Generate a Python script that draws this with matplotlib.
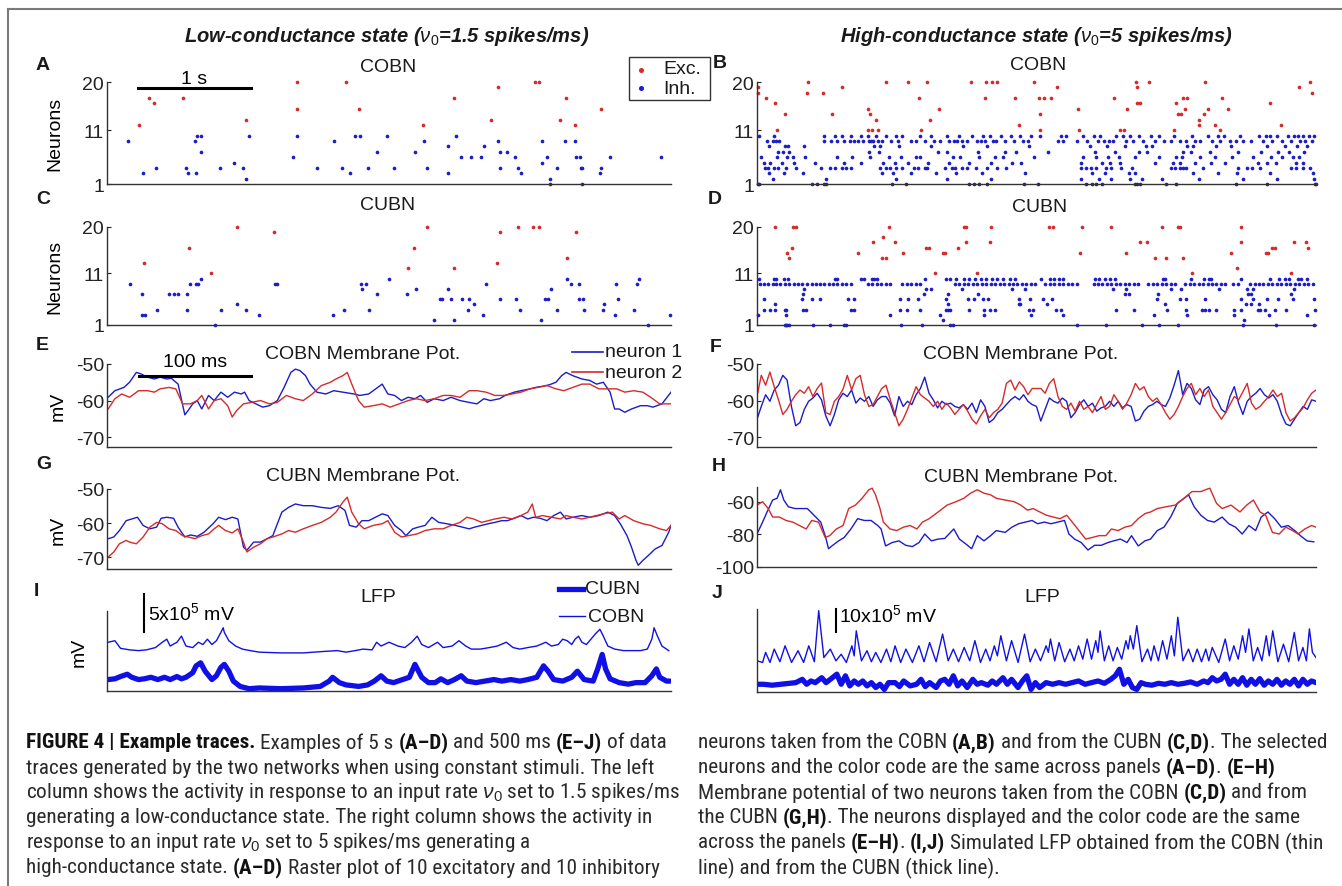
import numpy as np
import matplotlib
matplotlib.use('Agg')
import matplotlib.pyplot as plt
from matplotlib import font_manager
from matplotlib.font_manager import FontProperties
from matplotlib.lines import Line2D
from matplotlib.patches import Rectangle

# ---------------- data ----------------
# raster panels: spike times (ms) for each neuron id (11-20 excitatory, 1-10 inhibitory)
A_EXC = {12: [280, 2800, 4150], 17: [370, 670, 3080, 4070], 16: [420],
         13: [1230, 3400, 4020], 20: [1680, 2120, 3790, 3830],
         15: [1680, 2230, 4380], 19: [3470]}
A_INH = {10: [800, 830, 1260, 1680, 2200, 2240, 2480, 3090],
         9: [190, 780, 2010, 2810, 3470, 3860, 4060, 4150],
         8: [3020, 3340],
         7: [830, 2390, 2730, 3480, 3550],
         6: [1650, 3140, 3230, 3320, 3620, 3900, 4160, 4190, 4460, 4910],
         5: [1130, 3860],
         4: [430, 700, 1000, 1210, 1860, 2080, 2310, 2540, 2840, 3480, 3640, 3990, 4200, 4210, 4380],
         3: [320, 720, 790, 2150, 3020, 3670, 4370],
         2: [1230, 3930],
         1: [3930, 4210]}

C_EXC = {13: [330, 3460], 16: [730, 2720], 11: [920],
         20: [1150, 2840, 3640, 3780, 3830], 19: [1480, 3480, 4160],
         12: [2670, 3080], 14: [4080]}
C_INH = {9: [200, 740, 790, 810, 1490, 1510, 2250, 2300, 3360, 4110, 4180, 4510, 4700],
         7: [310, 550, 590, 630, 710, 2390, 2660],
         3: [310, 340, 1350, 2000, 3330, 4500, 4990],
         4: [440, 710, 1010, 1230, 2100, 2320, 3200, 3660, 3990, 4230, 4400, 4670],
         10: [830, 2500, 4080, 4720],
         1: [960, 4800],
         5: [1150, 3250, 4410],
         8: [2260, 2740, 3020, 3940],
         2: [2900, 3080, 3850],
         6: [2950, 2970, 3050, 3150, 3210, 3480, 3630, 3880, 3910, 4180, 4220, 4530]}

B_EXC = {19: [10, 760, 2680, 3400, 4850],
         18: [10, 450, 590, 4960],
         17: [80, 1450, 2040, 2310, 2520, 2570, 2630, 3190, 3810, 3850, 4160],
         16: [160, 3400, 3430, 3750, 4590],
         14: [250, 670, 1010, 2530, 3770, 3790, 4000],
         11: [180, 990, 1030, 1080, 1470, 2530, 2880, 3250, 3280, 3730, 4140],
         20: [460, 1150, 1350, 1520, 1910, 2050, 2100, 2150, 2480, 3390, 3510, 4010, 4950],
         15: [990, 1630, 2870, 3310, 3830, 4030, 4210],
         13: [1060, 1550, 3950],
         12: [2340, 3950, 4100, 4690]}
B_INH = {10: [20, 150, 600, 700, 760, 840, 930, 990, 1060, 1150, 1240, 1300, 1460, 1560, 1700, 1810,
              1920, 2020, 2080, 2180, 2270, 2350, 2450, 2530, 2720, 2760, 2920, 3010, 3070, 3210, 3270,
              3340, 3420, 3520, 3600, 3730, 3890, 4030, 4120, 4180, 4320, 4490, 4550, 4590, 4650, 4750,
              4800, 4840, 4880, 4940, 4980],
         9: [90, 140, 170, 200, 600, 660, 720, 780, 830, 870, 900, 950, 1000, 1020, 1040, 1080, 1120,
             1200, 1260, 1380, 1420, 1500, 1580, 1640, 1720, 1760, 1790, 1830, 1880, 1970, 2000, 2040,
             2110, 2140, 2220, 2300, 2380, 2420, 2690, 2740, 2860, 2950, 3050, 3100, 3150, 3180, 3300,
             3360, 3450, 3560, 3640, 3700, 3780, 3840, 3920, 3960, 4070, 4140, 4230, 4280, 4350, 4420,
             4530, 4610, 4700, 4780, 4860, 4900, 4960],
         8: [110, 250, 280, 420, 1050, 1100, 1270, 1560, 1840, 2060, 2430, 2980, 3130, 3290, 3480, 3530,
             3850, 3900, 4110, 4240, 4560, 4720, 4830, 4920],
         7: [190, 230, 290, 1000, 1090, 1620, 1700, 1980, 2220, 2320, 2600, 3020, 3200, 3420, 3490, 3810,
             3880, 4050, 4300, 4510, 4660, 4760, 4890],
         6: [40, 180, 270, 320, 430, 720, 850, 1010, 1180, 1290, 1420, 1460, 1750, 1820, 1990, 2130, 2200,
             2480, 2920, 3030, 3140, 3240, 3380, 3600, 3750, 3800, 3960, 4100, 4250, 4440, 4600, 4700,
             4790, 4850],
         5: [60, 120, 220, 330, 520, 780, 930, 1130, 1230, 1350, 1530, 1720, 1900, 2090, 2280, 2360, 2900,
             3090, 3160, 3250, 3560, 3720, 3780, 3920, 4060, 4190, 4480, 4560, 4640, 4820, 4880],
         4: [70, 100, 150, 190, 260, 350, 570, 650, 700, 760, 800, 840, 1100, 1150, 1190, 1240, 1300, 1400,
             1440, 1500, 1520, 1680, 1740, 1770, 1830, 1880, 1960, 2060, 2150, 2230, 2900, 2940, 2990,
             3030, 3120, 3170, 3260, 3350, 3700, 3740, 3780, 3810, 3840, 3990, 4300, 4380, 4430, 4500,
             4780, 4820, 4880, 4950],
         3: [110, 240, 410, 1120, 1220, 1380, 1600, 1780, 2010, 2400, 3000, 3110, 3330, 3380, 3900, 4120,
             4290, 4590, 4970],
         2: [140, 620, 1240, 1700, 2090, 2900, 3060, 3170, 3340, 3440, 3620, 3950, 4350, 4650, 4980],
         1: [10, 20, 490, 540, 600, 620, 1210, 1330, 1900, 1940, 1990, 2060, 2390, 2510, 2940, 3000, 3030,
             3090, 3380, 3400, 3430, 3660, 3750, 4280, 4560, 4990, 5000]}

D_EXC = {20: [160, 320, 350, 1180, 1850, 1870, 2090, 2610, 2650, 2910, 3170, 3620, 3770, 3780, 4330],
         15: [270, 900, 1310, 1660, 1680, 2890, 3300, 4240, 4550, 4570],
         14: [290, 1120, 1150, 3560, 3660, 3810],
         16: [310, 1510, 1540, 1800, 4610, 4630, 4930],
         17: [1040, 1230, 1870, 2080, 3430, 3490, 4330, 4800, 4910],
         18: [1130],
         11: [1590, 1970, 3890, 4780],
         12: [4290]}
D_INH = {10: [20, 150, 170, 240, 280, 700, 720, 930, 960, 1030, 1050, 1070, 1500, 1690, 1730, 1780, 1850,
              1900, 1950, 2000, 2050, 2100, 2150, 2200, 2260, 2310, 2540, 2620, 2660, 2700, 2740, 3020,
              3060, 3110, 3160, 3200, 3630, 3650, 3880, 4000, 4040, 4060, 4330, 4590, 4670, 4720, 4760,
              4840, 4870, 4920],
         9: [30, 60, 100, 140, 170, 210, 250, 290, 330, 370, 400, 450, 490, 530, 560, 600, 640, 680, 720,
             760, 800, 840, 990, 1030, 1070, 1110, 1150, 1190, 1300, 1340, 1380, 1420, 1460, 1770, 1810,
             1850, 1890, 1930, 1970, 2010, 2050, 2090, 2130, 2170, 2210, 2250, 2290, 2330, 2370, 2410,
             2450, 2490, 2580, 2620, 2660, 2700, 2740, 2780, 2820, 2860, 3010, 3050, 3090, 3130, 3170,
             3210, 3250, 3290, 3330, 3370, 3410, 3500, 3540, 3580, 3620, 3660, 3700, 3740, 3830, 3870,
             3910, 3950, 3990, 4030, 4070, 4110, 4150, 4190, 4260, 4300, 4410, 4450, 4490, 4530, 4570,
             4610, 4650, 4690, 4730, 4770, 4810, 4850, 4890, 4930, 4970],
         8: [420, 1510, 1560, 1830, 2280, 2400, 3180, 3300, 3700, 3790, 4130, 4380, 4440, 4800],
         7: [410, 1490, 1710, 1980, 3290, 3330, 3590, 4390, 4420, 4780],
         6: [60, 400, 490, 560, 810, 870, 1280, 1350, 1440, 1690, 1890, 1940, 2020, 2070, 2340, 2440, 2560,
             2640, 3580, 3780, 3840, 4010, 4330, 4440, 4560, 4660, 4790, 4980],
         5: [160, 1710, 2340, 2350, 2590, 3650, 4370, 4420, 4490],
         4: [60, 120, 160, 250, 260, 410, 440, 840, 870, 1280, 1340, 1460, 1690, 1710, 1730, 1900, 2030,
             2080, 2130, 2430, 2470, 2670, 2720, 3210, 3370, 3670, 3840, 3980, 4010, 4040, 4110, 4270,
             4330, 4480, 4500, 4540, 4630, 4730, 4990],
         3: [10, 260, 1190, 1640, 2030, 2450, 2740, 3550, 3850, 4270, 4580, 4920],
         2: [1660, 4360],
         1: [250, 260, 270, 290, 500, 650, 780, 800, 1290, 1480, 1730, 1750, 2860, 3120, 3440, 3600, 3770,
             4350, 4640, 4980]}

# membrane potentials (ms, mV)
E_T1 = [1, 7, 15, 20, 26, 30, 36, 42, 47, 53, 57, 63, 69, 72, 76, 80, 84, 90, 95, 101, 107, 113, 119, 122,
        126, 132, 138, 144, 151, 157, 163, 167, 171, 176, 180, 186, 194, 201, 209, 219, 224, 232, 240, 244,
        249, 255, 261, 267, 273, 278, 284, 290, 298, 305, 313, 321, 328, 334, 340, 348, 353, 361, 367, 375,
        380, 386, 392, 398, 403, 407, 413, 421, 428, 434, 440, 446, 450, 454, 459, 465, 473, 479, 484, 492, 500]
E_V1 = [-59.1, -57.3, -56.4, -55.0, -52.3, -52.7, -53.6, -54.1, -53.6, -54.1, -53.9, -55.5, -63.9, -62.7,
        -60.9, -60.0, -62.3, -58.6, -60.0, -57.7, -59.1, -57.7, -58.2, -57.7, -60.0, -60.9, -61.8, -61.4,
        -60.0, -56.4, -52.3, -51.4, -51.8, -53.2, -55.5, -57.7, -58.2, -57.3, -57.7, -58.2, -58.6, -58.2,
        -56.4, -55.5, -58.2, -58.6, -60.0, -59.1, -59.5, -58.6, -60.5, -59.5, -60.0, -59.1, -60.0, -60.5,
        -60.9, -59.5, -60.0, -59.5, -58.6, -57.7, -57.3, -56.8, -56.4, -56.1, -55.7, -55.0, -53.2, -52.3,
        -53.2, -54.1, -54.5, -55.5, -55.0, -57.7, -62.3, -62.3, -63.2, -62.3, -61.4, -61.4, -61.8, -60.9, -57.7]
E_T2 = [1, 7, 13, 20, 28, 36, 42, 47, 55, 61, 67, 74, 80, 84, 90, 95, 101, 107, 111, 115, 121, 128, 136,
        144, 151, 159, 167, 174, 182, 190, 198, 203, 209, 213, 217, 223, 228, 236, 244, 251, 259, 267, 274,
        282, 290, 298, 305, 313, 321, 328, 336, 344, 352, 359, 367, 375, 382, 390, 398, 405, 413, 421, 428,
        436, 444, 452, 459, 467, 475, 482, 490, 500]
E_V2 = [-62.3, -59.5, -58.2, -59.1, -57.3, -57.3, -57.7, -56.8, -56.4, -56.8, -60.9, -60.9, -60.0, -58.6,
        -62.3, -60.0, -59.5, -61.4, -64.5, -62.7, -60.9, -60.5, -60.0, -60.9, -60.5, -58.6, -59.5, -60.0,
        -58.2, -55.9, -55.0, -54.1, -53.2, -52.3, -55.5, -60.0, -61.8, -61.4, -60.9, -61.8, -60.9, -60.0,
        -59.5, -60.0, -59.5, -58.6, -58.6, -59.1, -57.3, -57.3, -57.7, -58.6, -58.6, -58.2, -57.7, -56.8,
        -56.4, -55.9, -56.8, -57.3, -56.4, -55.5, -55.5, -56.8, -56.8, -56.8, -57.7, -57.3, -57.7, -59.1,
        -60.9, -60.9]

# F traces digitised on an even grid over 500 ms
F_V1 = [-65.1, -61.6, -58.4, -60.2, -57.1, -55.8, -53.1, -54.4, -61.6, -66.9,
        -66.0, -62.4, -60.2, -59.3, -58.0, -59.8, -64.2, -66.9, -63.8, -59.8,
        -58.0, -58.9, -57.1, -60.7, -59.3, -60.2, -58.9, -61.6, -59.8, -58.9,
        -58.9, -60.7, -64.2, -58.9, -61.6, -60.2, -61.1, -58.4, -56.7, -53.6,
        -58.0, -59.8, -62.0, -60.2, -61.1, -60.7, -61.6, -62.0, -61.1, -62.4,
        -60.7, -63.3, -59.8, -61.6, -66.0, -65.1, -63.3, -62.4, -61.1, -59.8,
        -58.9, -59.8, -58.4, -60.2, -61.1, -61.6, -65.6, -62.4, -59.3, -60.2,
        -60.7, -59.3, -60.2, -64.7, -63.3, -61.1, -59.8, -61.6, -60.7, -62.9,
        -62.0, -61.6, -60.2, -61.6, -60.2, -62.0, -61.1, -61.6, -65.6, -65.1,
        -62.9, -61.6, -61.1, -60.2, -61.1, -61.6, -59.3, -55.8, -51.8, -58.4,
        -55.3, -56.7, -59.8, -61.1, -57.1, -56.2, -58.4, -59.8, -62.4, -63.3,
        -58.9, -56.2, -60.7, -63.8, -60.2, -58.9, -58.0, -56.7, -58.4, -59.3,
        -58.4, -60.2, -63.8, -66.4, -66.9, -65.1, -63.3, -61.6, -62.4, -59.8,
        -60.2]
F_V2 = [-58.9, -53.1, -55.8, -52.2, -56.2, -59.8, -63.8, -62.4, -60.2, -58.4,
        -57.1, -58.0, -56.2, -58.9, -56.7, -55.2, -63.3, -63.8, -60.2, -58.9,
        -56.9, -53.1, -57.1, -54.0, -53.1, -58.4, -61.6, -61.1, -58.9, -56.7,
        -55.8, -59.8, -63.3, -66.9, -65.1, -62.4, -59.3, -56.2, -58.4, -59.3,
        -60.2, -61.6, -60.2, -62.4, -60.7, -62.0, -63.8, -62.4, -61.1, -62.9,
        -65.1, -66.4, -64.2, -62.4, -64.7, -63.3, -62.4, -60.7, -55.3, -54.4,
        -57.1, -54.9, -56.2, -58.4, -56.7, -56.7, -56.7, -58.0, -55.3, -54.0,
        -58.9, -61.6, -62.4, -60.7, -62.9, -60.2, -62.4, -61.6, -63.3, -61.1,
        -58.9, -62.4, -61.6, -58.4, -60.2, -62.4, -60.7, -58.4, -55.3, -57.1,
        -56.2, -58.9, -60.2, -59.3, -61.1, -63.3, -65.1, -63.8, -61.6, -58.9,
        -56.7, -55.3, -58.4, -56.7, -58.9, -57.1, -61.6, -63.3, -65.1, -63.3,
        -61.1, -58.9, -59.8, -57.6, -55.3, -60.7, -62.4, -61.6, -60.2, -58.9,
        -57.1, -58.9, -58.0, -63.3, -65.6, -64.7, -63.3, -62.0, -59.8, -58.0,
        -57.1]

G_T1 = [1, 6, 11, 17, 22, 27, 32, 38, 44, 48, 53, 59, 63, 69, 74, 80, 86, 94, 99, 105, 111, 116, 121, 124,
        130, 136, 142, 147, 155, 161, 167, 174, 182, 190, 198, 205, 211, 215, 221, 226, 232, 238, 244, 249,
        255, 261, 265, 271, 276, 282, 288, 294, 301, 309, 315, 321, 326, 332, 338, 344, 350, 355, 361, 367,
        373, 378, 384, 390, 396, 402, 407, 413, 421, 428, 436, 444, 450, 455, 461, 465, 469, 471, 475, 480,
        486, 492, 498, 500]
G_V1 = [-64.6, -64.1, -62.2, -59.3, -58.8, -58.3, -60.7, -61.7, -61.2, -58.6, -58.3, -58.6, -61.2, -64.1,
        -63.5, -63.9, -62.7, -60.2, -58.3, -59.0, -58.3, -58.8, -67.1, -68.0, -65.6, -65.6, -64.6, -63.7,
        -56.8, -55.4, -54.4, -54.9, -54.9, -55.4, -55.7, -54.9, -56.3, -60.7, -61.2, -59.3, -59.3, -58.3,
        -57.3, -57.8, -60.7, -62.2, -63.7, -61.7, -61.2, -60.7, -58.3, -59.8, -60.2, -60.7, -61.2, -61.7,
        -61.2, -60.7, -60.2, -59.8, -59.3, -59.3, -58.6, -57.8, -58.8, -58.3, -58.6, -59.3, -57.8, -56.8,
        -58.8, -58.3, -57.8, -58.3, -57.8, -56.8, -57.8, -60.2, -63.7, -67.1, -71.0, -72.4, -71.0, -69.5,
        -67.6, -66.6, -62.7, -60.7]
G_T2 = [1, 6, 11, 17, 20, 26, 32, 38, 44, 49, 55, 61, 67, 72, 78, 84, 90, 95, 99, 105, 111, 116, 121, 124,
        130, 136, 142, 147, 155, 161, 167, 174, 182, 190, 198, 203, 209, 213, 217, 223, 228, 236, 244, 249,
        255, 261, 267, 275, 282, 290, 298, 305, 313, 319, 325, 332, 338, 344, 352, 359, 367, 373, 377, 380,
        386, 394, 402, 407, 413, 421, 428, 434, 440, 448, 454, 459, 467, 475, 482, 490, 496, 500]
G_V2 = [-70.0, -68.5, -66.1, -65.1, -65.6, -66.1, -64.1, -61.2, -59.8, -60.2, -61.7, -62.2, -63.7, -64.1,
        -64.6, -63.7, -63.2, -61.7, -60.7, -62.2, -62.9, -61.7, -65.6, -68.5, -67.1, -66.1, -64.6, -64.1,
        -63.2, -62.2, -62.7, -61.7, -60.7, -59.8, -58.3, -56.8, -53.9, -52.4, -56.8, -60.2, -61.7, -60.7,
        -60.2, -59.3, -62.7, -64.1, -63.7, -63.2, -62.2, -61.7, -61.7, -60.7, -59.8, -58.3, -58.8, -59.8,
        -59.3, -58.8, -58.3, -58.8, -57.8, -56.8, -54.4, -58.3, -57.8, -58.3, -58.8, -57.8, -58.3, -58.8,
        -58.3, -57.8, -57.3, -56.8, -58.8, -57.8, -59.3, -60.2, -60.7, -61.7, -62.2, -60.7]

H_T1 = [0, 5, 9, 14, 18, 21, 24, 28, 34, 40, 45, 51, 57, 61, 64, 67, 73, 78, 84, 90, 96, 102, 108, 111,
        115, 121, 127, 133, 139, 145, 150, 156, 162, 168, 176, 181, 187, 192, 197, 203, 209, 214, 222, 228,
        234, 240, 246, 251, 257, 263, 269, 275, 279, 284, 290, 296, 302, 308, 314, 319, 325, 331, 335, 341,
        347, 352, 358, 364, 370, 376, 382, 386, 391, 397, 403, 409, 416, 422, 428, 434, 440, 446, 451, 457,
        463, 469, 475, 481, 486, 492, 498]
H_V1 = [-79.8, -72.5, -66.3, -59.0, -57.9, -52.7, -59.0, -63.1, -64.2, -64.2, -64.2, -68.3, -72.5, -80.8,
        -88.8, -87.1, -84.0, -81.9, -76.7, -70.4, -71.5, -71.5, -74.6, -76.7, -87.1, -85.0, -84.0, -86.7,
        -87.5, -85.0, -79.8, -84.0, -82.9, -82.5, -76.7, -82.9, -86.0, -88.8, -80.8, -84.0, -80.8, -77.7,
        -78.8, -75.6, -73.5, -72.5, -71.5, -73.5, -72.5, -73.5, -72.5, -71.5, -79.8, -82.9, -85.0, -89.6,
        -86.7, -86.7, -85.0, -84.0, -82.9, -85.0, -80.8, -87.1, -84.0, -82.9, -77.7, -75.6, -69.4, -61.0,
        -57.9, -55.8, -63.1, -68.3, -71.5, -72.5, -69.4, -73.5, -75.6, -79.8, -74.6, -77.7, -69.4, -66.3,
        -70.4, -75.6, -74.6, -77.7, -80.8, -84.0, -84.6]
H_T2 = [0, 5, 10, 14, 20, 26, 32, 38, 44, 49, 55, 61, 65, 71, 77, 82, 88, 94, 100, 103, 106, 110, 113,
        119, 125, 131, 137, 143, 148, 154, 162, 170, 178, 185, 191, 197, 203, 209, 214, 222, 230, 236, 242,
        247, 253, 259, 265, 271, 277, 282, 288, 294, 300, 306, 312, 317, 323, 329, 335, 341, 347, 352, 358,
        366, 374, 382, 389, 397, 405, 411, 416, 424, 432, 438, 444, 450, 455, 461, 467, 473, 479, 484, 490,
        496, 500]
H_V2 = [-62.1, -60.0, -64.2, -69.4, -69.4, -71.5, -72.5, -74.6, -76.7, -71.5, -72.5, -81.9, -80.8, -76.7,
        -74.6, -64.2, -62.1, -57.9, -52.7, -51.7, -55.8, -64.2, -72.5, -76.7, -77.7, -75.6, -74.6, -76.7,
        -72.5, -70.4, -66.3, -62.1, -60.0, -57.9, -54.8, -52.7, -54.8, -55.8, -57.9, -59.0, -60.0, -62.1,
        -65.2, -64.2, -66.3, -68.3, -69.4, -70.4, -68.3, -72.5, -77.7, -82.9, -81.9, -80.8, -80.8, -76.7,
        -77.7, -75.6, -74.6, -70.4, -67.3, -66.3, -64.2, -63.1, -62.1, -57.9, -53.8, -53.8, -51.7, -61.0,
        -64.2, -62.1, -66.3, -62.1, -59.0, -66.3, -68.3, -78.8, -79.8, -75.6, -77.7, -79.8, -76.7, -74.6,
        -75.6]

# LFP traces (ms, x10^5 mV)
I_T_COBN = [1, 7, 12, 20, 28, 35, 43, 49, 53, 56, 62, 66, 70, 76, 81, 85, 89, 93, 97, 101, 103, 104, 108,
            114, 120, 127, 135, 154, 174, 193, 204, 212, 220, 227, 235, 239, 243, 250, 258, 264, 270, 275,
            279, 285, 293, 298, 306, 312, 318, 323, 331, 339, 346, 354, 360, 366, 373, 381, 389, 394, 400,
            404, 408, 412, 415, 418, 421, 425, 429, 433, 437, 440, 444, 450, 458, 465, 473, 479, 483, 485,
            488, 492, 498]
I_V_COBN = [6.4, 6.6, 5.6, 5.4, 5.3, 5.4, 5.7, 6.4, 6.8, 5.9, 6.4, 7.2, 5.9, 5.7, 6.4, 6.1, 6.8, 6.1, 6.6,
            7.7, 8.3, 7.7, 6.6, 5.9, 5.5, 5.3, 5.1, 5.0, 5.0, 5.2, 5.3, 5.1, 5.3, 5.5, 5.4, 6.4, 5.9, 6.4,
            5.9, 5.7, 6.4, 7.2, 6.1, 5.7, 6.4, 5.7, 5.9, 6.6, 5.9, 5.5, 5.5, 5.7, 5.9, 6.4, 5.7, 5.5, 5.7,
            5.9, 6.4, 5.9, 6.1, 6.8, 6.6, 6.1, 6.8, 7.2, 6.4, 6.1, 6.8, 7.5, 8.1, 7.2, 5.9, 5.5, 5.3, 5.3,
            5.3, 5.5, 6.8, 8.3, 7.2, 5.9, 5.3]
I_T_CUBN = [1, 7, 12, 18, 22, 28, 33, 39, 45, 51, 56, 62, 66, 70, 76, 79, 83, 87, 93, 97, 101, 104, 108,
            112, 118, 126, 135, 154, 174, 189, 197, 200, 206, 212, 223, 231, 237, 243, 248, 254, 262, 268,
            273, 279, 285, 291, 296, 302, 308, 314, 319, 327, 335, 343, 350, 358, 366, 373, 381, 387, 391,
            396, 404, 412, 417, 423, 431, 435, 439, 442, 446, 454, 462, 469, 477, 483, 487, 490, 496, 499]
I_V_CUBN = [1.5, 1.6, 1.9, 2.2, 1.8, 1.5, 1.6, 1.8, 1.5, 1.8, 1.5, 1.9, 1.6, 1.8, 2.4, 3.3, 3.7, 2.6, 1.5,
            2.0, 3.1, 3.5, 2.6, 1.3, 0.6, 0.3, 0.4, 0.3, 0.4, 0.6, 1.3, 1.8, 1.1, 0.8, 0.6, 0.8, 1.3, 2.0,
            1.3, 1.1, 1.5, 1.8, 3.5, 1.8, 1.1, 1.1, 1.6, 1.1, 1.5, 2.0, 1.3, 1.1, 1.3, 1.5, 1.3, 1.5, 1.3,
            1.5, 1.8, 3.3, 2.6, 1.5, 1.3, 1.8, 2.6, 1.5, 1.3, 2.9, 4.8, 2.9, 1.6, 1.1, 0.9, 1.1, 1.1, 2.0,
            2.9, 1.8, 1.3, 1.3]

J_T_COBN = [0, 5.0, 7.7, 11.6, 15.4, 20.5, 25.1, 30.9, 36.7, 41.7, 46.3, 51.3, 55.2, 59.8, 65.6, 70.6,
            75.3, 79.9, 84.9, 86.9, 88.8, 93.4, 98.4, 102.3, 106.2, 110.8, 115.8, 119.7, 123.5, 128.5,
            133.2, 139, 144.8, 149.4, 154.4, 160.2, 166, 171, 175.6, 180.3, 185.3, 190.3, 194.9, 199.9,
            204.6, 208.4, 212.3, 215, 218.1, 223.1, 227.7, 233.5, 239.3, 244.3, 249, 253.6, 258.6, 260.6,
            262.5, 266.3, 270.2, 275.2, 279.9, 283.7, 287.6, 291.4, 295.3, 299.2, 303, 305, 306.9, 310.7,
            314.6, 318.5, 322.3, 326.2, 330, 332, 333.9, 336.6, 339.7, 344.3, 349.3, 352.4, 355.1, 359,
            362.8, 366.7, 370.6, 373.3, 376.4, 381, 386, 389.9, 393.7, 397.6, 401.4, 404.1, 407.2, 413,
            418.8, 422.7, 426.5, 430.4, 434.3, 437, 440, 443.9, 447.8, 451.6, 455.5, 458.2, 461.3, 465.9,
            470.9, 475.6, 480.6, 484.4, 488.3, 491.4, 494.1, 496.8, 500]
J_V_COBN = [13.3, 12.6, 16.9, 12.6, 18.3, 12.9, 19.7, 12.6, 17.6, 12.6, 19.7, 12.9, 34.7, 14.7, 18.3, 13.3,
            16.1, 12.6, 19.7, 15.4, 26.1, 13.3, 17.6, 12.9, 16.9, 12.6, 18.3, 12.9, 19.7, 12.6, 18.3, 12.6,
            19.7, 12.9, 21.1, 12.9, 24.7, 13.3, 18.3, 12.9, 19.0, 13.3, 21.9, 12.6, 18.3, 13.3, 19.7, 15.4,
            24.0, 13.3, 21.9, 12.6, 24.7, 12.9, 18.3, 13.3, 19.7, 16.9, 22.6, 13.3, 21.1, 12.9, 18.3, 13.3,
            19.7, 14.0, 22.6, 14.0, 21.9, 16.9, 26.1, 13.3, 19.7, 13.3, 19.0, 14.0, 21.9, 18.3, 24.0, 18.3,
            28.3, 12.9, 18.3, 13.3, 19.7, 13.3, 21.9, 14.0, 24.0, 15.4, 31.9, 13.3, 18.3, 12.9, 18.3, 12.9,
            18.3, 13.3, 19.0, 12.6, 22.6, 13.3, 19.7, 14.0, 24.0, 16.9, 26.9, 13.3, 19.0, 13.3, 24.0, 15.4,
            26.1, 12.9, 20.4, 12.9, 25.4, 13.3, 19.0, 13.3, 26.9, 16.9, 14.7]
J_T_CUBN = [0, 5.8, 13.5, 21.2, 29, 34.7, 40.5, 44.4, 48.3, 52.1, 57.9, 61.8, 65.6, 71.4, 75.3, 79.1, 83,
            86.9, 90.7, 94.6, 98.4, 102.3, 106.2, 110, 113.9, 117.7, 123.5, 127.4, 131.2, 137, 142.8, 146.7,
            150.5, 154.4, 160.2, 164.1, 167.9, 171.8, 175.6, 179.5, 183.4, 188, 193, 196.9, 200.7, 206.5,
            210.4, 214.2, 220, 223.9, 227.7, 233.5, 237.4, 241.3, 245.1, 249, 252.8, 258.6, 264.4, 270.2,
            276, 281.8, 287.6, 293.4, 299.2, 305, 310.7, 316.5, 320.4, 324.2, 328.1, 332, 335.8, 339.7,
            343.5, 347.4, 353.2, 359, 364.8, 370.6, 376.4, 382.1, 387.9, 393.7, 399.5, 403.4, 407.2, 411.1,
            415, 418.8, 422.7, 426.5, 430.4, 434.3, 438.1, 442, 445.8, 449.7, 453.6, 457.4, 461.3, 465.1,
            469, 472.9, 476.7, 480.6, 484.4, 488.3, 492.2, 496, 500]
J_V_CUBN = [3.3, 3.3, 2.9, 3.3, 3.7, 4.0, 5.4, 3.3, 4.7, 4.0, 6.1, 4.0, 5.4, 7.6, 3.3, 6.9, 2.6, 4.7, 3.3,
            4.7, 2.6, 4.0, 1.9, 3.3, 1.1, 4.0, 4.0, 2.3, 4.7, 2.6, 3.3, 5.4, 2.3, 4.0, 1.9, 4.7, 5.4, 3.3,
            6.9, 2.6, 4.7, 1.9, 5.4, 3.3, 4.0, 2.9, 4.7, 3.3, 6.1, 3.3, 5.4, 1.9, 4.7, 6.9, 1.1, 4.0, 1.9,
            4.0, 3.3, 4.0, 3.3, 4.0, 4.7, 3.3, 4.0, 4.7, 3.7, 5.4, 6.9, 9.7, 3.3, 5.4, 1.9, 1.1, 4.0, 3.3,
            2.9, 3.7, 3.3, 4.0, 3.3, 3.7, 4.3, 3.3, 4.7, 4.0, 6.1, 4.7, 5.4, 7.6, 3.3, 5.4, 3.3, 6.1, 2.9,
            5.4, 3.3, 5.7, 2.9, 4.7, 3.3, 5.4, 2.9, 4.7, 3.3, 5.4, 2.6, 5.4, 3.3, 4.7, 4.0]

RED, BLUE = '#d42b2b', '#1c1cc8'
LFP_BLUE = '#1010e6'

# ---------------- figure ----------------
W, H = 1342, 887
plt.rcParams['font.family'] = ['Liberation Sans', 'DejaVu Sans']
plt.rcParams['axes.unicode_minus'] = False
plt.rcParams['mathtext.fontset'] = 'custom'
plt.rcParams['mathtext.rm'] = 'Liberation Sans'
plt.rcParams['mathtext.it'] = 'Liberation Sans:italic'
plt.rcParams['mathtext.bf'] = 'Liberation Sans:bold'

fig = plt.figure(figsize=(W / 100, H / 100), dpi=100)
fig.patch.set_facecolor('white')


def fx(x):
    return x / W


def fy(y):
    return 1 - y / H


def panel(x0, y0, x1, y1):
    ax = fig.add_axes([fx(x0), fy(y1), (x1 - x0) / W, (y1 - y0) / H])
    ax.spines[['top', 'right']].set_visible(False)
    for s in ('left', 'bottom'):
        ax.spines[s].set_color('#333333')
        ax.spines[s].set_linewidth(1.0)
    ax.set_xticks([])
    ax.tick_params(axis='y', direction='in', length=3, width=0.8, labelsize=14,
                   pad=2, colors='#222222')
    ax.patch.set_alpha(0)
    return ax


def ftext(x, y, s, **kw):
    kw.setdefault('ha', 'center')
    kw.setdefault('va', 'center')
    kw.setdefault('color', '#1a1a1a')
    return fig.text(fx(x), fy(y), s, **kw)


def raster(ax, exc, inh):
    for n, ts in exc.items():
        ax.scatter(ts, [n] * len(ts), s=7, c=RED, marker='o', linewidths=0, clip_on=False)
    for n, ts in inh.items():
        ax.scatter(ts, [n] * len(ts), s=7, c=BLUE, marker='o', linewidths=0, clip_on=False)
    ax.set_xlim(0, 5000)
    ax.set_ylim(1, 20)
    ax.set_yticks([1, 11, 20])


LX0, LX1, RX0, RX1 = 107, 671, 757, 1316

# frame
fig.add_artist(Line2D([fx(8), 1], [fy(10), fy(10)], color='#7a7a7a', lw=1.5))
fig.add_artist(Line2D([fx(8), fx(8)], [fy(10), 0], color='#7a7a7a', lw=1.5))

# column titles
ftext(387, 37, r'Low-conductance state ($\nu_0$=1.5 spikes/ms)', fontsize=14.5,
      fontweight='bold', style='italic')
ftext(1036, 37, r'High-conductance state ($\nu_0$=5 spikes/ms)', fontsize=14.5,
      fontweight='bold', style='italic')

# ---- A / B ----
axA = panel(LX0, 83, LX1, 185)
raster(axA, A_EXC, A_INH)
axA.set_ylabel('Neurons', fontsize=14, labelpad=14)
axA.plot([275, 1275], [18.9, 18.9], color='black', lw=2.2, clip_on=False)
axA.text(775, 20.7, '1 s', fontsize=14, ha='center', va='center')

axB = panel(RX0, 83, RX1, 185)
raster(axB, B_EXC, B_INH)

# legend box (Exc./Inh.)
fig.add_artist(Rectangle((fx(629), fy(101)), 81 / W, 43 / H, transform=fig.transFigure,
                         facecolor='white', edgecolor='#333333', lw=1.0))
fig.add_artist(Line2D([fx(641)], [fy(71)], marker='o', ms=2.6, color=RED, lw=0))
fig.add_artist(Line2D([fx(641)], [fy(89)], marker='o', ms=2.6, color=BLUE, lw=0))
ftext(663, 70, 'Exc.', fontsize=14, ha='left')
ftext(663, 89, 'Inh.', fontsize=14, ha='left')

# ---- C / D ----
axC = panel(LX0, 228, LX1, 326)
raster(axC, C_EXC, C_INH)
axC.set_ylabel('Neurons', fontsize=14, labelpad=14)
axD = panel(RX0, 228, RX1, 326)
raster(axD, D_EXC, D_INH)

# ---- E / F ----
axE = panel(LX0, 365, LX1, 448)
axE.plot(E_T1, E_V1, color=BLUE, lw=1.0)
axE.plot(E_T2, E_V2, color=RED, lw=1.0)
axE.set_xlim(0, 500)
axE.set_ylim(-72.7, -50)
axE.set_yticks([-50, -60, -70])
axE.set_ylabel('mV', fontsize=14, labelpad=7)
axE.plot([28, 128], [-53.3, -53.3], color='black', lw=2.2, clip_on=False)
axE.text(78, -49.3, '100 ms', fontsize=14, ha='center', va='center', clip_on=False)

fig.add_artist(Line2D([fx(572), fx(603)], [fy(353), fy(353)], color=BLUE, lw=1.2))
fig.add_artist(Line2D([fx(572), fx(603)], [fy(373), fy(373)], color=RED, lw=1.2))
ftext(605, 353, 'neuron 1', fontsize=14, ha='left')
ftext(605, 373, 'neuron 2', fontsize=14, ha='left')

axF = panel(RX0, 365, RX1, 448)
f_t = np.linspace(0, 500, len(F_V1))
axF.plot(f_t, F_V1, color=BLUE, lw=1.0)
axF.plot(f_t, F_V2, color=RED, lw=1.0)
axF.set_xlim(0, 500)
axF.set_ylim(-72.7, -50)
axF.set_yticks([-50, -60, -70])

# ---- G / H ----
axG = panel(LX0, 490, LX1, 570)
axG.plot(G_T1, G_V1, color=BLUE, lw=1.0)
axG.plot(G_T2, G_V2, color=RED, lw=1.0)
axG.set_xlim(0, 500)
axG.set_ylim(-73.5, -50)
axG.set_yticks([-50, -60, -70])
axG.set_ylabel('mV', fontsize=14, labelpad=7)

axH = panel(RX0, 488, RX1, 568)
axH.plot(H_T1, H_V1, color=BLUE, lw=1.0)
axH.plot(H_T2, H_V2, color=RED, lw=1.0)
axH.set_xlim(0, 500)
axH.set_ylim(-100, -51)
axH.set_yticks([-60, -80, -100])

# ---- I / J ----
axI = panel(LX0, 612, LX1, 692)
axI.plot(I_T_COBN, I_V_COBN, color=LFP_BLUE, lw=1.0)
axI.plot(I_T_CUBN, I_V_CUBN, color=LFP_BLUE, lw=3.8, solid_capstyle='round')
axI.set_xlim(0, 500)
axI.set_ylim(0, 10.5)
axI.set_yticks([])
axI.set_ylabel('mV', fontsize=14, labelpad=14)
axI.plot([33, 33], [7.7, 12.7], color='black', lw=1.5, clip_on=False)
axI.text(36, 10.3, r'5x10$^5$ mV', fontsize=14, ha='left', va='center', clip_on=False)

fig.add_artist(Line2D([fx(559), fx(583)], [fy(590), fy(590)], color=LFP_BLUE, lw=3.8))
fig.add_artist(Line2D([fx(559), fx(585)], [fy(617), fy(617)], color=LFP_BLUE, lw=1.0))
ftext(585, 590, 'CUBN', fontsize=14, ha='left')
ftext(588, 617, 'COBN', fontsize=14, ha='left')

axJ = panel(RX0, 610, RX1, 693)
axJ.plot(J_T_COBN, J_V_COBN, color=LFP_BLUE, lw=1.0)
axJ.plot(J_T_CUBN, J_V_CUBN, color=LFP_BLUE, lw=3.8, solid_capstyle='round')
axJ.set_xlim(0, 500)
axJ.set_ylim(0, 35.4)
axJ.set_yticks([])
axJ.plot([70.6, 70.6], [25.4, 35.4], color='black', lw=1.5, clip_on=False)
axJ.text(73, 33.3, r'10x10$^5$ mV', fontsize=14, ha='left', va='center', clip_on=False)

# panel titles and letters
for x, y, s in [(388, 67, 'COBN'), (1038, 66, 'COBN'), (388, 205, 'CUBN'), (1040, 207, 'CUBN'),
                (363, 355, 'COBN Membrane Pot.'), (1021, 355, 'COBN Membrane Pot.'),
                (363, 477, 'CUBN Membrane Pot.'), (1021, 478, 'CUBN Membrane Pot.'),
                (378, 597, 'LFP'), (1042, 598, 'LFP')]:
    ftext(x, y, s, fontsize=14)
for x, y, s in [(36, 66, 'A'), (713, 64, 'B'), (36, 200, 'C'), (708, 199, 'D'), (36, 345, 'E'),
                (710, 348, 'F'), (36, 465, 'G'), (712, 467, 'H'), (34, 592, 'I'), (712, 593, 'J')]:
    ftext(x, y, s, fontsize=14, fontweight='bold', ha='left')


# ---------------- caption ----------------
def _is_bold(w):
    return str(w).lower() in ('bold', '700', 'heavy', 'extra bold', 'demibold', 'semibold', '600', '800')


def _is_regular(w):
    return str(w).lower() in ('normal', 'regular', '400', 'book', 'roman', 'medium', '500')


def pick_caption_fonts():
    # prefer a condensed sans face, as in the printed caption
    prefs = ['Liberation Sans Narrow', 'Roboto Condensed', 'Noto Sans', 'Open Sans', 'DejaVu Sans']
    found = {}
    for f in font_manager.fontManager.ttflist:
        cond = ('Narrow' in f.name or 'Condensed' in f.name or
                str(f.stretch).lower() in ('condensed', 'semi-condensed'))
        if not cond or f.style != 'normal':
            continue
        slot = found.setdefault(f.name, {})
        if _is_bold(f.weight):
            slot.setdefault('bold', f.fname)
        elif _is_regular(f.weight):
            slot.setdefault('regular', f.fname)
    for p in prefs:
        for name, slot in found.items():
            if name.startswith(p) and 'regular' in slot and 'bold' in slot:
                return FontProperties(fname=slot['regular']), FontProperties(fname=slot['bold'])
    return (FontProperties(family='Liberation Sans'),
            FontProperties(family='Liberation Sans', weight='bold'))


CAP_REG, CAP_BOLD = pick_caption_fonts()
renderer = fig.canvas.get_renderer()
NU = r'$\nu_0$'

CAP_LEFT = [
    [('FIGURE 4 | Example traces.', True), (' Examples of 5 s ', False), ('(A–D)', True),
     (' and 500 ms ', False), ('(E–J)', True), (' of data', False)],
    [('traces generated by the two networks when using constant stimuli. The left', False)],
    [('column shows the activity in response to an input rate ' + NU + ' set to 1.5 spikes/ms', False)],
    [('generating a low-conductance state. The right column shows the activity in', False)],
    [('response to an input rate ' + NU + ' set to 5 spikes/ms generating a', False)],
    [('high-conductance state. ', False), ('(A–D)', True),
     (' Raster plot of 10 excitatory and 10 inhibitory', False)],
]
CAP_RIGHT = [
    [('neurons taken from the COBN ', False), ('(A,B)', True), (' and from the CUBN ', False),
     ('(C,D)', True), ('. The selected', False)],
    [('neurons and the color code are the same across panels ', False), ('(A–D)', True),
     ('. ', False), ('(E–H)', True)],
    [('Membrane potential of two neurons taken from the COBN ', False), ('(C,D)', True),
     (' and from', False)],
    [('the CUBN ', False), ('(G,H)', True), ('. The neurons displayed and the color code are the same', False)],
    [('across the panels ', False), ('(E–H)', True), ('. ', False), ('(I,J)', True),
     (' Simulated LFP obtained from the COBN (thin', False)],
    [('line) and from the CUBN (thick line).', False)],
]


def cap_text(x, y, s, size, bold):
    fp = (CAP_BOLD if bold else CAP_REG).copy()
    fp.set_size(size)
    return fig.text(fx(x), fy(y), s, fontproperties=fp, ha='left', va='center',
                    color='#111111' if bold else '#2a2a2a')


def seg_width(s, size, bold):
    t = cap_text(0, 0, s, size, bold)
    w = t.get_window_extent(renderer).width
    t.remove()
    return w


def rich_line(x, y, parts, size, draw=True):
    for s, bold in parts:
        lead = len(s) - len(s.lstrip(' '))
        trail = len(s) - len(s.rstrip(' '))
        core = s.strip(' ')
        sw = seg_width('x x', size, bold) - seg_width('xx', size, bold)
        x += lead * sw
        if core:
            if draw:
                t = cap_text(x, y, core, size, bold)
                x += t.get_window_extent(renderer).width
            else:
                x += seg_width(core, size, bold)
        x += trail * sw
    return x


cap_size = 10 * 637 / rich_line(0, 0, CAP_LEFT[0], 10, draw=False)
for k, parts in enumerate(CAP_LEFT):
    rich_line(26, 743 + 25 * k, parts, cap_size)
for k, parts in enumerate(CAP_RIGHT):
    rich_line(698, 743 + 25 * k, parts, cap_size)

fig.savefig('out.png', dpi=100, facecolor='white')
